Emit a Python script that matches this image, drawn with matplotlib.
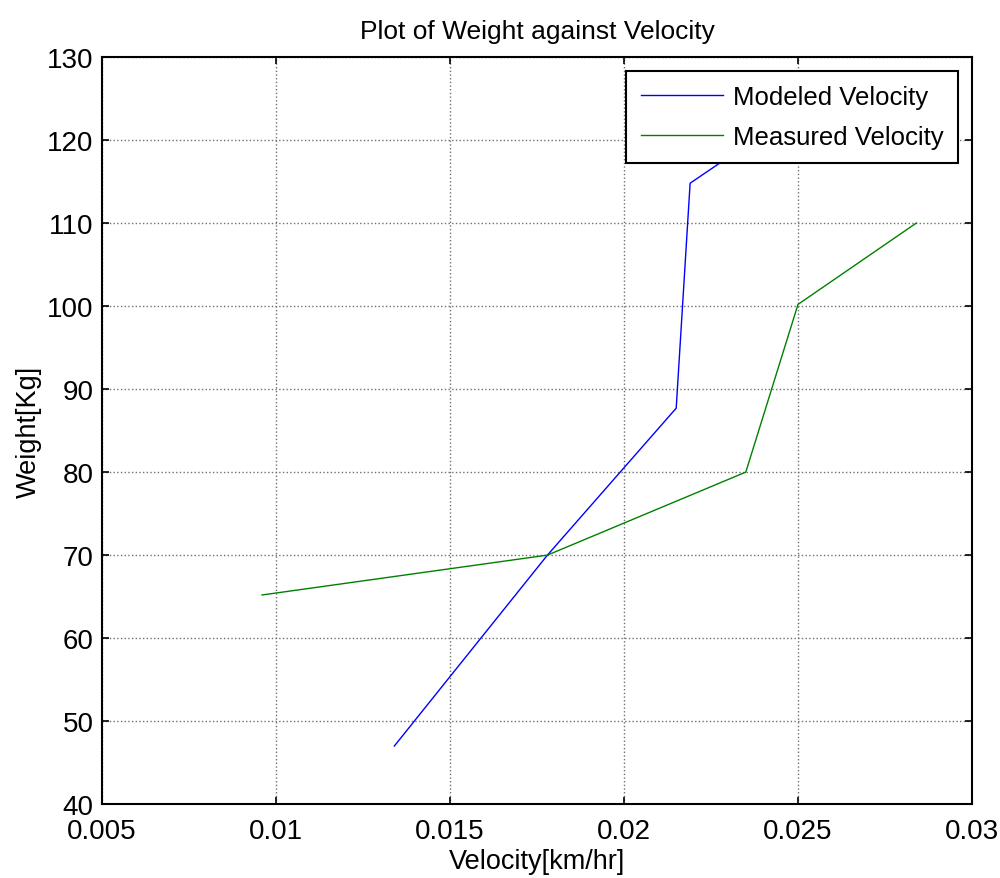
import numpy as np
import matplotlib.pyplot as plt

plt.rcParams['font.family'] = ['Liberation Sans', 'DejaVu Sans']

# modeled velocity (last point sits behind the legend)
modeled_v = [0.0134, 0.0178, 0.0215, 0.0219, 0.0245]
modeled_w = [47.0, 70.0, 87.7, 114.8, 122.2]

# measured velocity
measured_v = [0.0096, 0.0178, 0.0235, 0.0250, 0.0284]
measured_w = [65.2, 70.0, 80.0, 100.2, 110.0]

x_ticks = [0.005, 0.01, 0.015, 0.02, 0.025, 0.03]
x_labels = ['0.005', '0.01', '0.015', '0.02', '0.025', '0.03']
y_ticks = [40, 50, 60, 70, 80, 90, 100, 110, 120, 130]

fig = plt.figure(figsize=(10, 8.79), dpi=100)
ax = fig.add_axes([0.102, 0.084, 0.870, 0.850])

ax.plot(modeled_v, modeled_w, color='#0000ff', lw=1, label='Modeled Velocity')
ax.plot(measured_v, measured_w, color='#008000', lw=1, label='Measured Velocity')

ax.set_xlim(0.005, 0.03)
ax.set_ylim(40, 130)
ax.set_xticks(x_ticks)
ax.set_xticklabels(x_labels)
ax.set_yticks(y_ticks)
ax.tick_params(direction='in', top=True, right=True, labelsize=20, length=5, width=1.2)
ax.tick_params(axis='x', pad=10)
ax.tick_params(axis='y', pad=6)
for s in ax.spines.values():
    s.set_linewidth(1.5)
ax.grid(True, color='#707070', linestyle=':', linewidth=1)

ax.set_title('Plot of Weight against Velocity', fontsize=19, pad=14)
ax.set_xlabel('Velocity[km/hr]', fontsize=19.5, labelpad=3)
ax.set_ylabel('Weight[Kg]', fontsize=19.5, labelpad=4)

leg = ax.legend(loc='upper right', fontsize=18.5, fancybox=False, framealpha=1,
                edgecolor='black', handlelength=3.2, handletextpad=0.4,
                borderaxespad=0.55, labelspacing=0.6, borderpad=0.55)
leg.get_frame().set_linewidth(1.5)

plt.savefig('out.png', dpi=100)
